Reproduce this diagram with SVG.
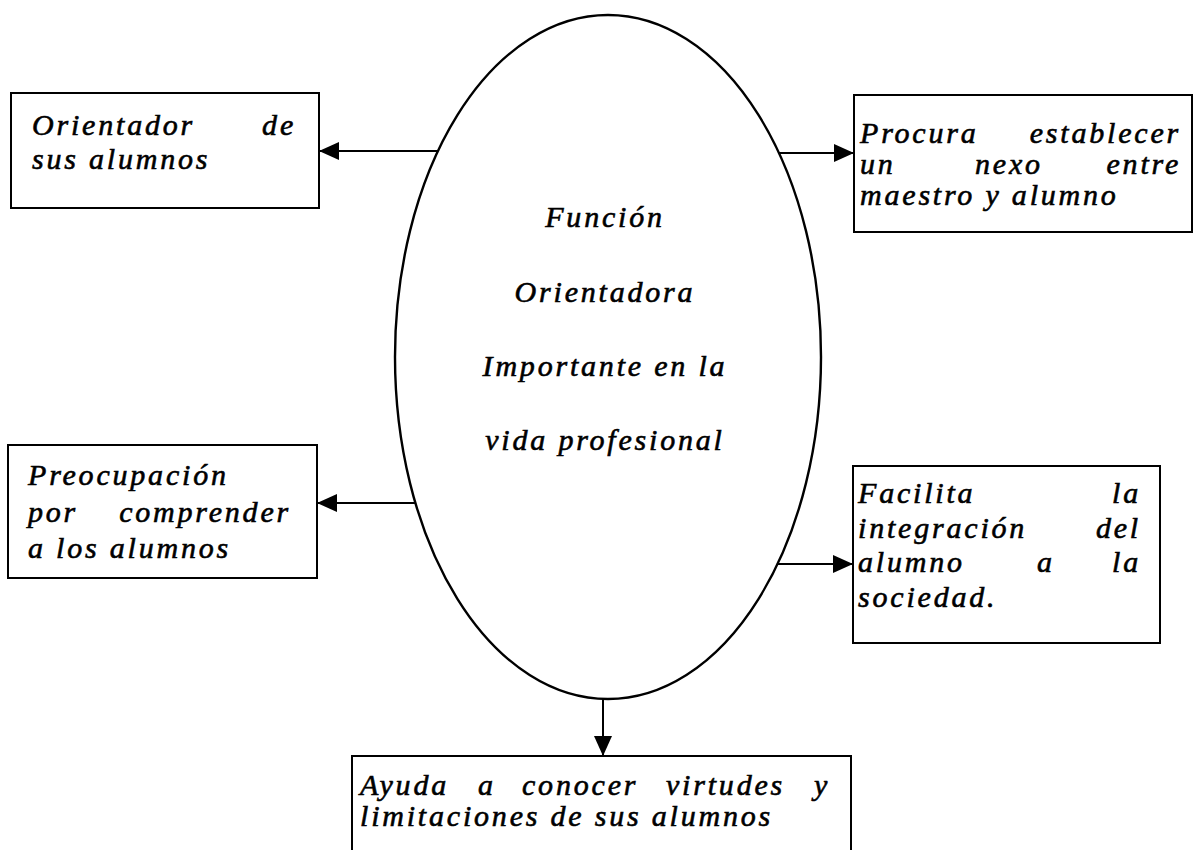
<svg xmlns="http://www.w3.org/2000/svg" width="1194" height="850" viewBox="0 0 1194 850">
<defs>
<style>
.box{fill:#fff;stroke:#000;stroke-width:2}
.t{font-family:'Liberation Serif','Times New Roman',serif;font-style:italic;font-size:30px;letter-spacing:2.8px;fill:#000;stroke:#000;stroke-width:0.6px}
.e{text-anchor:end}
.m{text-anchor:middle}
.c{stroke:#000;stroke-width:2;fill:none;marker-end:url(#ah)}
</style>
<marker id="ah" markerUnits="userSpaceOnUse" markerWidth="22" markerHeight="20" refX="20" refY="9" orient="auto">
<path d="M0,0 L20,9 L0,18 Z" fill="#000"/>
</marker>
</defs>
<rect width="1194" height="850" fill="#fff"/>
<g id="center">
<ellipse cx="608" cy="357" rx="213" ry="342" fill="none" stroke="#000" stroke-width="2.4"/>
<text class="t m" x="605" y="227">Función</text>
<text class="t m" x="605" y="302">Orientadora</text>
<text class="t m" x="605" y="376">Importante en la</text>
<text class="t m" x="605" y="450">vida profesional</text>
</g>
<g id="n1">
<rect class="box" x="11" y="93" width="308" height="115"/>
<text class="t" x="32" y="135">Orientador</text>
<text class="t e" x="296" y="135">de</text>
<text class="t" x="32" y="169">sus alumnos</text>
</g>
<g id="n2">
<rect class="box" x="854" y="95" width="338" height="137"/>
<text class="t" x="860" y="143">Procura</text>
<text class="t e" x="1181" y="143">establecer</text>
<text class="t" x="860" y="174">un</text>
<text class="t" x="975" y="174">nexo</text>
<text class="t e" x="1181" y="174">entre</text>
<text class="t" x="860" y="205">maestro y alumno</text>
</g>
<g id="n3">
<rect class="box" x="8" y="445" width="309" height="133"/>
<text class="t" x="28" y="485">Preocupación</text>
<text class="t" x="28" y="522">por</text>
<text class="t e" x="291" y="522">comprender</text>
<text class="t" x="28" y="558">a los alumnos</text>
</g>
<g id="n4">
<rect class="box" x="853" y="466" width="307" height="177"/>
<text class="t" x="858" y="503">Facilita</text>
<text class="t e" x="1141" y="503">la</text>
<text class="t" x="858" y="538">integración</text>
<text class="t e" x="1141" y="538">del</text>
<text class="t" x="858" y="572">alumno</text>
<text class="t" x="1037" y="572">a</text>
<text class="t e" x="1141" y="572">la</text>
<text class="t" x="858" y="607">sociedad.</text>
</g>
<g id="n5">
<rect class="box" x="352" y="756" width="499" height="120"/>
<text class="t" x="360" y="795">Ayuda</text>
<text class="t" x="478" y="795">a</text>
<text class="t" x="522" y="795">conocer</text>
<text class="t" x="666" y="795">virtudes</text>
<text class="t e" x="830" y="795">y</text>
<text class="t" x="360" y="826">limitaciones de sus alumnos</text>
</g>
<g id="connectors">
<line class="c" x1="438" y1="151" x2="319" y2="151"/>
<line class="c" x1="778" y1="153" x2="854" y2="153"/>
<line class="c" x1="415" y1="503" x2="317" y2="503"/>
<line class="c" x1="778" y1="564" x2="853" y2="564"/>
<line class="c" x1="603" y1="699" x2="603" y2="756"/>
</g>
</svg>
